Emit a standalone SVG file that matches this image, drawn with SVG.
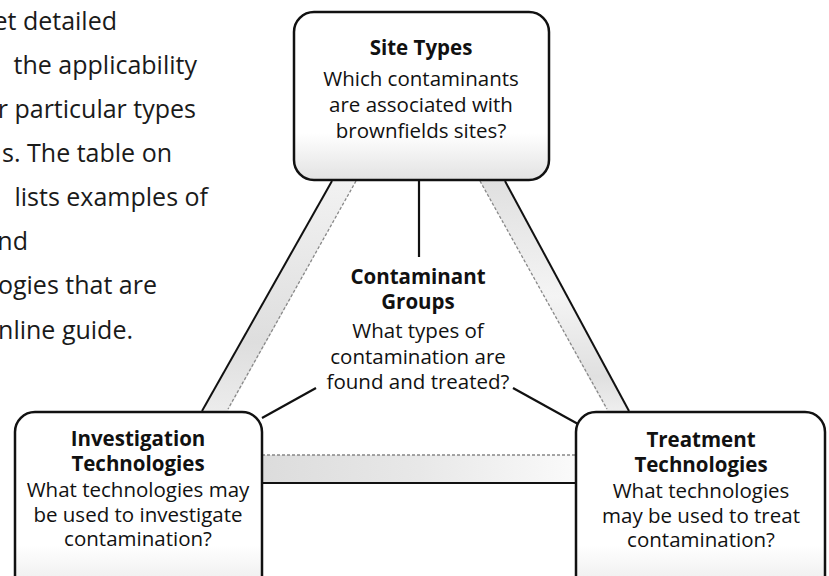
<svg xmlns="http://www.w3.org/2000/svg" width="829" height="576" viewBox="0 0 829 576">
<defs>
<style>
.para{font-family:"Open Sans","Noto Sans",sans-serif;font-size:25px;fill:#1a1a1a;text-anchor:end}
.t{font-family:"Open Sans","Noto Sans",sans-serif;font-size:20.5px;fill:#111;text-anchor:middle}
.b{font-weight:bold}
.box{fill:url(#boxg);stroke:#111;stroke-width:2.5}
.conn{stroke:#111;stroke-width:2.2;fill:none}
.solid{stroke:#111;stroke-width:2;fill:none}
.dot{stroke:#888;stroke-width:1.3;stroke-dasharray:3 2;fill:none}
</style>
<linearGradient id="boxg" x1="0" y1="0" x2="0" y2="1">
<stop offset="0" stop-color="#fff"/>
<stop offset="0.72" stop-color="#fff"/>
<stop offset="1" stop-color="#e2e2e2"/>
</linearGradient>
<linearGradient id="boxg2" x1="0" y1="0" x2="0" y2="1">
<stop offset="0" stop-color="#fff"/>
<stop offset="0.7" stop-color="#fff"/>
<stop offset="1" stop-color="#e6e6e6"/>
</linearGradient>
<linearGradient id="bandh" x1="0" y1="0" x2="1" y2="0">
<stop offset="0" stop-color="#dcdcdc"/>
<stop offset="0.5" stop-color="#e8e8e8"/>
<stop offset="1" stop-color="#fafafa"/>
</linearGradient>
<linearGradient id="bandl" x1="0" y1="0" x2="0" y2="1">
<stop offset="0" stop-color="#f2f2f2"/>
<stop offset="0.7" stop-color="#dedede"/>
<stop offset="1" stop-color="#ececec"/>
</linearGradient>
<linearGradient id="bandr" x1="0" y1="0" x2="0" y2="1">
<stop offset="0" stop-color="#e0e0e0"/>
<stop offset="0.5" stop-color="#f4f4f4"/>
<stop offset="0.85" stop-color="#e0e0e0"/>
<stop offset="1" stop-color="#eeeeee"/>
</linearGradient>
</defs>
<rect width="829" height="576" fill="#fff"/>

<g id="paragraph">
<text class="para" x="117" y="30">et detailed</text>
<text class="para" x="197" y="74">the applicability</text>
<text class="para" x="196" y="118">r particular types</text>
<text class="para" x="172" y="162">s. The table on</text>
<text class="para" x="208" y="206">lists examples of</text>
<text class="para" x="28" y="250">nd</text>
<text class="para" x="157" y="294">ogies that are</text>
<text class="para" x="133" y="339">nline guide.</text>
</g>

<g id="connectors">
<polygon points="332,181 356,181 228,411 202,411" fill="url(#bandl)"/>
<line class="solid" x1="332" y1="181" x2="202" y2="411"/>
<line class="dot" x1="356" y1="181" x2="228" y2="409"/>
<polygon points="480,181 505,181 629,411 607,411" fill="url(#bandr)"/>
<line class="dot" x1="480" y1="181" x2="607" y2="409"/>
<line class="solid" x1="505" y1="181" x2="629" y2="411"/>
<rect x="262" y="455" width="314" height="28" fill="url(#bandh)"/>
<line class="dot" x1="262" y1="455" x2="576" y2="455"/>
<line class="solid" x1="262" y1="483" x2="576" y2="483"/>
<line class="conn" x1="419" y1="180" x2="419" y2="257"/>
<line class="conn" x1="316" y1="388" x2="262" y2="418"/>
<line class="conn" x1="513" y1="388" x2="578" y2="424"/>
</g>

<g id="site-types">
<rect class="box" x="294" y="12" width="255" height="168" rx="20"/>
<text class="t b" x="421" y="55">Site Types</text>
<text class="t" x="421" y="86">Which contaminants</text>
<text class="t" x="421" y="112">are associated with</text>
<text class="t" x="421" y="138">brownfields sites?</text>
</g>

<g id="contaminant-groups">
<text class="t b" x="418" y="284">Contaminant</text>
<text class="t b" x="418" y="309">Groups</text>
<text class="t" x="418" y="338">What types of</text>
<text class="t" x="418" y="364">contamination are</text>
<text class="t" x="418" y="389">found and treated?</text>
</g>

<g id="investigation-technologies">
<rect x="15" y="412" width="247" height="190" rx="20" fill="url(#boxg2)" stroke="#111" stroke-width="2.5"/>
<text class="t b" x="138" y="446">Investigation</text>
<text class="t b" x="138" y="471">Technologies</text>
<text class="t" x="138" y="497">What technologies may</text>
<text class="t" x="138" y="522">be used to investigate</text>
<text class="t" x="138" y="546">contamination?</text>
</g>

<g id="treatment-technologies">
<rect x="576" y="412" width="249" height="190" rx="20" fill="url(#boxg2)" stroke="#111" stroke-width="2.5"/>
<text class="t b" x="701" y="447">Treatment</text>
<text class="t b" x="701" y="472">Technologies</text>
<text class="t" x="701" y="498">What technologies</text>
<text class="t" x="701" y="523">may be used to treat</text>
<text class="t" x="701" y="547">contamination?</text>
</g>
</svg>
